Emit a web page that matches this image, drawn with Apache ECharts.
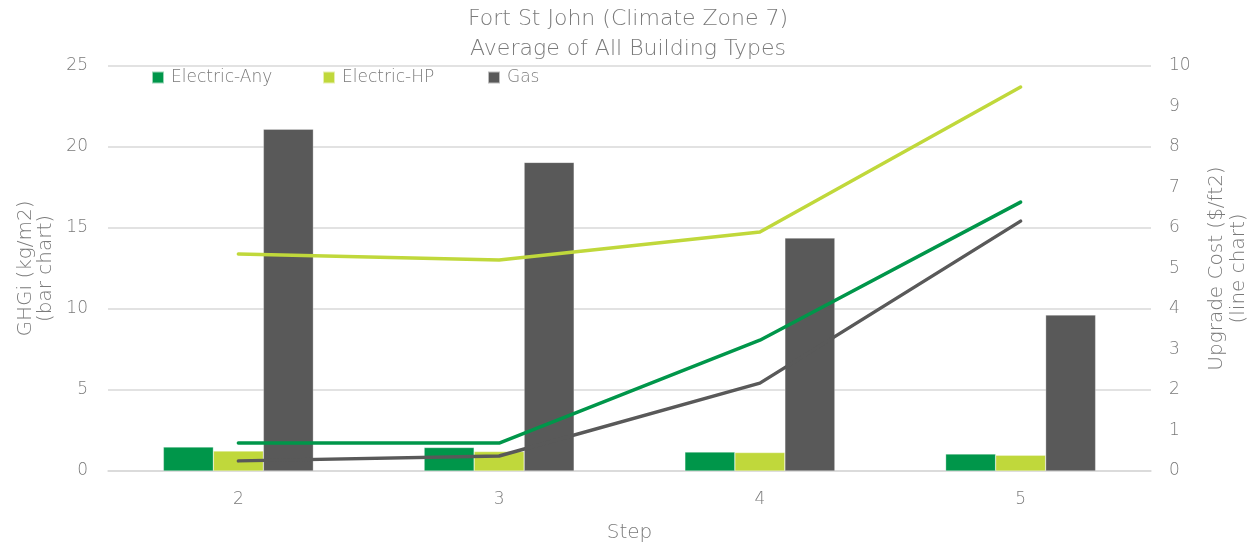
<!DOCTYPE html>
<html>
<head>
<meta charset="utf-8">
<script src="https://cdn.jsdelivr.net/npm/echarts@6/dist/echarts.min.js"></script>
<style>
  html, body { margin: 0; padding: 0; background: #fff; }
  #chart { width: 1256px; height: 549px; }
</style>
</head>
<body>
<div id="chart"></div>
<script>
// Steps along the x axis
const steps = ['2', '3', '4', '5'];

// GHG intensity (kg/m2) — bars on the left axis
const ghgElectricAny = [1.48, 1.45, 1.17, 1.05];
const ghgElectricHP = [1.23, 1.2, 1.14, 0.97];
const ghgGas = [21.1, 19.05, 14.38, 9.63];

// Upgrade cost ($/ft2) — lines on the right axis
const costElectricAny = [0.69, 0.69, 3.23, 6.64];
const costElectricHP = [5.36, 5.21, 5.9, 9.48];
const costGas = [0.25, 0.37, 2.17, 6.17];

const colors = { 'Electric-Any': '#00964a', 'Electric-HP': '#c0d83b', 'Gas': '#595959' };

const FONT = "'DejaVu Sans', 'Open Sans', sans-serif";
const WEIGHT = 300;
const TEXT = '#7a7a7a';

const chart = echarts.init(document.getElementById('chart'), null, { renderer: 'canvas' });

function legendFor(name, left) {
  return {
    data: [name],
    left: left,
    top: 69,
    padding: 0,
    itemWidth: 12,
    itemHeight: 12,
    itemGap: 0,
    icon: 'rect',
    selectedMode: false,
    textStyle: { color: TEXT, fontFamily: FONT, fontWeight: WEIGHT, fontSize: 17, padding: [0, 0, 0, 2] }
  };
}

function barSeries(name, values) {
  return {
    name: name,
    type: 'bar',
    yAxisIndex: 0,
    data: values,
    barWidth: 50,
    barGap: '0%',
    itemStyle: { color: colors[name], borderColor: 'rgba(255,255,255,0.6)', borderWidth: 0.5 }
  };
}

function lineSeries(name, values) {
  return {
    name: name + ' cost',
    type: 'line',
    yAxisIndex: 1,
    data: values,
    symbol: 'none',
    z: 3,
    lineStyle: { color: colors[name], width: 3.5, cap: 'round', join: 'round' }
  };
}

chart.setOption({
  backgroundColor: '#fff',
  animation: false,
  title: {
    text: 'Fort St John (Climate Zone 7)\nAverage of All Building Types',
    left: 'center',
    top: 0,
    padding: [4, 5, 5, 5],
    textStyle: { color: TEXT, fontFamily: FONT, fontSize: 22, fontWeight: WEIGHT, lineHeight: 30 }
  },
  legend: [
    legendFor('Electric-Any', 151),
    legendFor('Electric-HP', 322),
    legendFor('Gas', 487)
  ],
  grid: { left: 108, right: 105, top: 66, bottom: 78, outerBoundsMode: 'none', containLabel: false },
  xAxis: {
    type: 'category',
    data: steps,
    name: 'Step',
    nameLocation: 'middle',
    nameGap: 52,
    nameTextStyle: { color: TEXT, fontFamily: FONT, fontWeight: WEIGHT, fontSize: 20 },
    axisLine: { lineStyle: { color: '#d9d9d9', width: 1.5 } },
    axisTick: { show: false },
    axisLabel: { color: TEXT, fontFamily: FONT, fontWeight: WEIGHT, fontSize: 17, margin: 20 }
  },
  yAxis: [
    {
      type: 'value',
      min: 0, max: 25, interval: 5,
      name: 'GHGi (kg/m2)\n(bar chart)',
      nameLocation: 'middle',
      nameGap: 50,
      nameTextStyle: { color: TEXT, fontFamily: FONT, fontWeight: WEIGHT, fontSize: 20, lineHeight: 20 },
      axisLine: { show: false },
      axisTick: { show: false },
      axisLabel: { color: TEXT, fontFamily: FONT, fontWeight: WEIGHT, fontSize: 17, margin: 20 },
      splitLine: { lineStyle: { color: '#d9d9d9', width: 1.5 } }
    },
    {
      type: 'value',
      min: 0, max: 10, interval: 1,
      name: 'Upgrade Cost ($/ft2)\n(line chart)',
      nameLocation: 'middle',
      nameGap: 55,
      nameRotate: 90,
      nameTextStyle: { color: TEXT, fontFamily: FONT, fontWeight: WEIGHT, fontSize: 20, lineHeight: 22 },
      axisLine: { show: false },
      axisTick: { show: false },
      axisLabel: { color: TEXT, fontFamily: FONT, fontWeight: WEIGHT, fontSize: 17, margin: 18 },
      splitLine: { show: false }
    }
  ],
  series: [
    barSeries('Electric-Any', ghgElectricAny),
    barSeries('Electric-HP', ghgElectricHP),
    barSeries('Gas', ghgGas),
    lineSeries('Electric-HP', costElectricHP),
    lineSeries('Electric-Any', costElectricAny),
    lineSeries('Gas', costGas)
  ]
});
</script>
</body>
</html>
